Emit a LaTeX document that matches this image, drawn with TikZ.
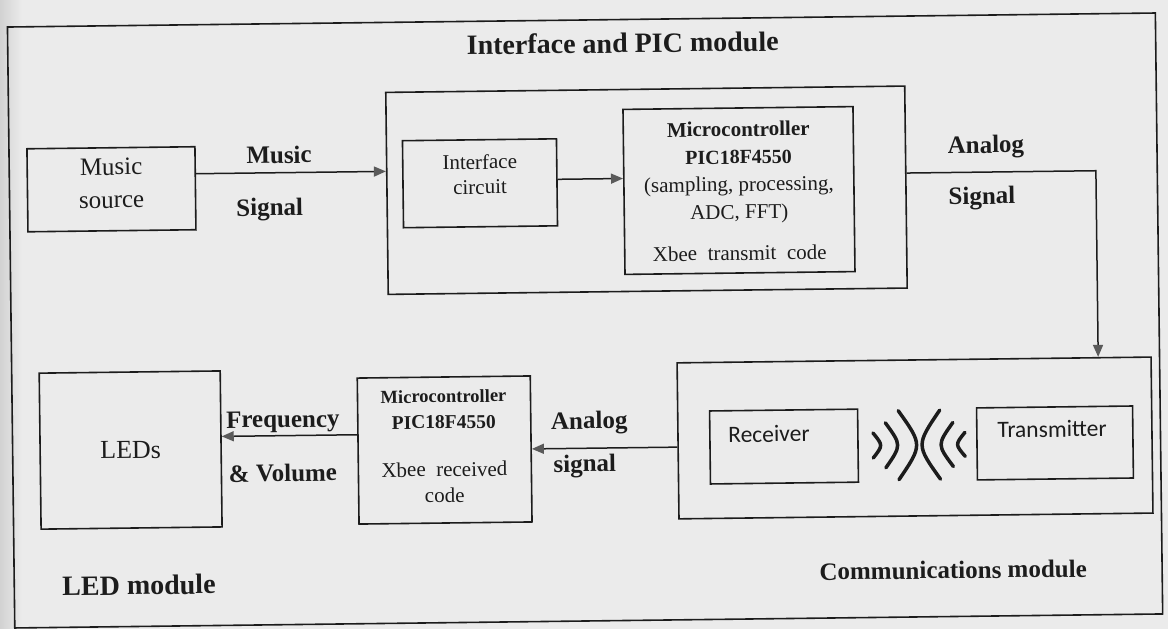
\documentclass[tikz,border=0pt]{standalone}
\usepackage{fontspec}
\setmainfont{Liberation Serif}
\newfontfamily\calibri{Carlito}
\usetikzlibrary{arrows.meta,calc}
\definecolor{bg}{HTML}{EBEBEB}
\definecolor{strip}{HTML}{D2D2D2}
\definecolor{ink}{HTML}{1C1C1C}
\definecolor{tipc}{HTML}{5A5A5A}
\begin{document}
\begin{tikzpicture}[x=1pt,y=-1pt,
  box/.style={draw=ink,line width=1.6pt,rectangle,inner sep=0pt},
  lbl/.style={font=\fontsize{25}{30}\selectfont\bfseries,inner sep=0pt,text=ink},
  txt/.style={inner sep=0pt,align=center,text=ink},
  arr/.style={draw=ink,line width=1.5pt,-{Triangle[length=12pt,width=10pt,color=tipc]}},
  wave/.style={draw=ink,line width=3.5pt,line cap=round},
]
\fill[bg] (0,0) rectangle (1168,629);
\shade[left color=strip,right color=bg] (0,0) rectangle (22,629);
\useasboundingbox (0,0) rectangle (1168,629);
\begin{scope}[rotate around={0.7:(584,315)},transform shape]
% outer frame
\node[box,minimum width=1148pt,minimum height=601pt] (frame) at (585,320.5) {};
% titles
\node[lbl,font=\fontsize{28}{32}\selectfont\bfseries] (ttl) at (626,43.5) {Interface and PIC module};
\node[lbl,font=\fontsize{28}{32}\selectfont\bfseries] (ledttl) at (135.7,579.6) {LED module};
\node[lbl] (comttl) at (950,574.5) {Communications module};
% boxes
\node[box,minimum width=168pt,minimum height=83pt] (ms) at (113,183.5) {};
\node[box,minimum width=519pt,minimum height=202pt] (ipb) at (648,191) {};
\node[box,minimum width=154pt,minimum height=87pt] (ic) at (481.6,182) {};
\node[box,minimum width=230pt,minimum height=165pt] (mc1) at (740.5,192.4) {};
\node[box,minimum width=474pt,minimum height=156pt] (comm) at (913.5,442) {};
\node[box,minimum width=148pt,minimum height=73pt] (rx) at (782.4,449) {};
\node[box,minimum width=156pt,minimum height=72pt] (tx) at (1053.4,448.7) {};
\node[box,minimum width=181pt,minimum height=156pt] (leds) at (129,444.5) {};
\node[box,minimum width=173pt,minimum height=146pt] (mc2) at (443,448.3) {};
% box texts
\node[txt,font=\fontsize{25}{33}\selectfont] (mst) at (113,177.5) {Music\\source};
\node[txt,font=\fontsize{21}{25}\selectfont] (ict) at (481.6,173) {Interface\\circuit};
\node[txt,font=\fontsize{21}{27.5}\selectfont] (mc1t) at (740.5,193) {\textbf{Microcontroller}\\\textbf{\fontsize{20}{27.5}\selectfont PIC18F4550}\\(sampling, processing,\\ADC, FFT)\\[14pt]Xbee\ \ transmit\ \ code};
\node[txt,font=\fontsize{21}{26}\selectfont] (mc2t) at (442.5,444.5) {\textbf{\fontsize{18.5}{26}\selectfont Microcontroller}\\\textbf{\fontsize{19.5}{26}\selectfont PIC18F4550}\\[22pt]Xbee\ \ received\\code};
\node[txt,font=\fontsize{26}{30}\selectfont] (ledst) at (129,444.5) {LEDs};
\node[txt,font=\calibri\fontsize{23.5}{28}\selectfont] (rxt) at (767.5,436.2) {Receiver};
\node[txt,font=\calibri\fontsize{23.5}{28}\selectfont] (txt1) at (1050.6,434.7) {Transmitter};
% connector labels
\node[lbl] (l1) at (281,151) {Music};
\node[lbl] (l2) at (271,206) {Signal};
\node[lbl] (l3) at (988,152) {Analog};
\node[lbl] (l4) at (983.4,203) {Signal};
\node[lbl] (l5) at (588,423) {Analog};
\node[lbl] (l6) at (583,466) {signal};
\node[lbl] (l7) at (281.6,418.3) {Frequency};
\node[lbl] (l8) at (281,469.3) {\&\ Volume};
% connectors
\draw[arr] ([yshift=14.5pt]ms.east) -- ([yshift=22pt]ipb.west);
\draw[arr] ([yshift=3pt]ic.east) -- ([yshift=13.4pt]mc1.west);
\coordinate (k1) at (1097.7,177);
\draw[arr] ([yshift=14pt]ipb.east) -- (k1) -- ([xshift=184.2pt]comm.north);
\draw[arr] ([yshift=-6.3pt]comm.west) -- (mc2.east);
\draw[arr] ([yshift=16.3pt]mc2.west) -- ([yshift=12.5pt]leds.east);
% radio waves
\draw[wave] (871.5,436.5) .. controls (881.5,449) .. (871.5,461.5);
\draw[wave] (884,426.5) .. controls (900,449) .. (884,471.5);
\draw[wave] (897,414.5) .. controls (921,449) .. (897,483.5);
\draw[wave] (938.5,414.5) .. controls (914.5,449) .. (938.5,483.5);
\draw[wave] (951.5,427) .. controls (935.5,449) .. (951.5,471);
\draw[wave] (963.5,437) .. controls (953.5,449) .. (963.5,461);
\end{scope}
\end{tikzpicture}
\end{document}
